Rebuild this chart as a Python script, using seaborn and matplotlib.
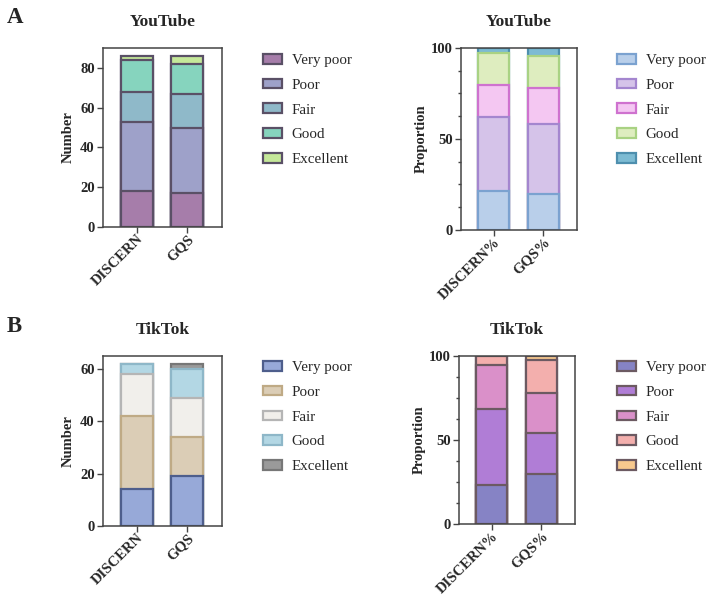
import pandas as pd
import numpy as np
import seaborn as sns
import matplotlib.pyplot as plt
from matplotlib.patches import Patch
from matplotlib.ticker import MultipleLocator

levels = ['Very poor', 'Poor', 'Fair', 'Good', 'Excellent']

# YouTube
yt_cats = ['DISCERN', 'GQS']
yt_discern = [18, 35, 15, 16, 2]
yt_gqs = [17, 33, 17, 15, 4]
yt_pct_cats = ['DISCERN%', 'GQS%']
yt_discern_pct = [21.5, 40.5, 17.5, 17.5, 3]
yt_gqs_pct = [20, 38, 20, 17.5, 4.5]

# TikTok
tt_cats = ['DISCERN', 'GQS']
tt_discern = [14, 28, 16, 4, 0]
tt_gqs = [19, 15, 15, 11, 2]
tt_pct_cats = ['DISCERN%', 'GQS%']
tt_discern_pct = [23, 45.5, 26, 5.5, 0]
tt_gqs_pct = [30, 24, 24, 19.4, 2.6]

yt_fill = ['#A67DAA', '#9EA1C9', '#8FB9C9', '#86D4BE', '#C5E89A']
yt_edge = ['#5a5066'] * 5
ytp_fill = ['#B9CFEA', '#D5C3E9', '#F4C7F2', '#DEEDBF', '#7DBBD3']
ytp_edge = ['#7BA2D0', '#A486CF', '#CF72CF', '#A9D283', '#4E8FAE']
tt_fill = ['#97A9D8', '#DBCDB6', '#F1EFEB', '#B3D7E4', '#9A9A9A']
tt_edge = ['#4E5E8C', '#BFAA85', '#B5B5B5', '#8EB7C8', '#777777']
ttp_fill = ['#8683C5', '#B07DD6', '#DA90C9', '#F3AFAD', '#F7C98E']
ttp_edge = ['#6C5A62'] * 5

sns.set_style('ticks')
plt.rcParams['font.family'] = ['Liberation Serif', 'DejaVu Serif']
plt.rcParams['font.weight'] = 'bold'
plt.rcParams['axes.labelweight'] = 'bold'
plt.rcParams['axes.titleweight'] = 'bold'

W, H = 708, 597
fig = plt.figure(figsize=(W / 100, H / 100), dpi=100)


def px_axes(l, t, r, b):
    return fig.add_axes([l / W, 1 - b / H, (r - l) / W, (b - t) / H])


def stacked(ax, cats, a, b, fills, edges, ymax, ylabel, title, pct):
    df = pd.DataFrame({'Metric': cats})
    cum_a = np.cumsum(a)
    cum_b = np.cumsum(b)
    for i in range(len(levels) - 1, -1, -1):
        df['v'] = [cum_a[i], cum_b[i]]
        sns.barplot(data=df, x='Metric', y='v', color=fills[i], edgecolor=edges[i],
                    linewidth=1.6, width=0.63, saturation=1, errorbar=None, ax=ax)
    ax.set_xlim(-0.67, 1.69)
    ax.set_ylim(0, ymax)
    ax.set_xlabel('')
    ax.set_ylabel(ylabel, fontsize=10.5, labelpad=2 if pct else 4)
    ax.set_title(title, fontsize=12.5, pad=16)
    if pct:
        ax.yaxis.set_major_locator(MultipleLocator(50))
        ax.yaxis.set_minor_locator(MultipleLocator(12.5))
    else:
        ax.yaxis.set_major_locator(MultipleLocator(20))
    ax.tick_params(axis='y', labelsize=10.5, direction='out', length=4, width=1, color='#444', pad=2)
    ax.tick_params(axis='x', labelsize=10.5, direction='out', length=4, width=1, color='#444', pad=0)
    ax.tick_params(axis='y', which='minor', length=2.5, width=1, color='#444')
    for lab in ax.get_xticklabels():
        lab.set_rotation(45)
        lab.set_ha('right')
        lab.set_va('top')
        lab.set_rotation_mode('anchor')
    for s in ax.spines.values():
        s.set_color('#444')
        s.set_linewidth(1.1)
    handles = [Patch(facecolor=fills[i], edgecolor=edges[i], linewidth=1.6) for i in range(len(levels))]
    return handles


def add_legend(ax, handles, x, y):
    ax.legend(handles, levels, loc='upper left', bbox_to_anchor=(x / W, 1 - y / H),
              bbox_transform=fig.transFigure, frameon=False, borderpad=0, borderaxespad=0,
              handlelength=1.25, handleheight=0.6, handletextpad=0.65, labelspacing=0.78,
              prop={'family': 'Liberation Serif', 'weight': 'normal', 'size': 10.8})


ax1 = px_axes(103, 48, 222, 227)
h = stacked(ax1, yt_cats, yt_discern, yt_gqs, yt_fill, yt_edge, 90, 'Number', 'YouTube', False)
add_legend(ax1, h, 263, 54)

ax2 = px_axes(461, 48, 577, 230)
h = stacked(ax2, yt_pct_cats, yt_discern_pct, yt_gqs_pct, ytp_fill, ytp_edge, 100, 'Proportion', 'YouTube', True)
add_legend(ax2, h, 617, 54)

ax3 = px_axes(103, 356, 222, 526)
h = stacked(ax3, tt_cats, tt_discern, tt_gqs, tt_fill, tt_edge, 65, 'Number', 'TikTok', False)
add_legend(ax3, h, 263, 361)

ax4 = px_axes(459, 356, 575, 524)
h = stacked(ax4, tt_pct_cats, tt_discern_pct, tt_gqs_pct, ttp_fill, ttp_edge, 100, 'Proportion', 'TikTok', True)
add_legend(ax4, h, 617, 361)

fig.text(7 / W, 1 - 23 / H, 'A', fontsize=16.5, fontweight='bold')
fig.text(7 / W, 1 - 332 / H, 'B', fontsize=16.5, fontweight='bold')

fig.savefig('out.png', dpi=100)
